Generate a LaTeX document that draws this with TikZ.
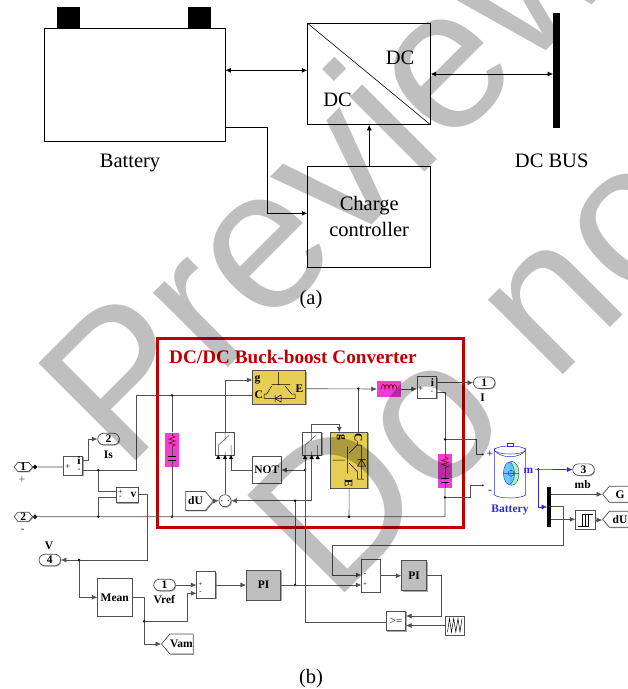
\documentclass[tikz,border=0pt]{standalone}
\usepackage{fontspec}
\setmainfont{Liberation Serif}
\newfontfamily\wmfont{Liberation Sans}
\usetikzlibrary{arrows.meta,shapes.misc,shapes.symbols,shapes.geometric,shadows}
\definecolor{wirecol}{HTML}{505050}
\definecolor{framered}{HTML}{C00000}
\definecolor{igbtyellow}{HTML}{E6CE55}
\definecolor{rcpink}{HTML}{F23CD6}
\definecolor{pigray}{HTML}{BEBEBE}
\definecolor{batblue}{HTML}{2A2AE0}
\tikzset{
  wire/.style={wirecol, line width=0.6pt},
  bluewire/.style={batblue, line width=0.6pt},
  block/.style={draw=wirecol, fill=white, line width=0.7pt, inner sep=0pt, font=\bfseries\fontsize{11.5}{12}\selectfont,
    drop shadow={shadow xshift=0.9pt, shadow yshift=-0.9pt, fill=gray, opacity=0.7}},
  igbt/.style={block, fill=igbtyellow},
  pigain/.style={block, fill=pigray},
  rcbox/.style={fill=rcpink, inner sep=0pt, minimum width=14.5pt, minimum height=34pt},
  oport/.style={block, rounded rectangle, minimum width=21.5pt, minimum height=11.5pt},
  tagbox/.style={block, signal, signal pointer angle=100, minimum height=16pt},
  inport/.style={tagbox, signal to=east and west, minimum width=18.5pt, minimum height=9pt},
  lab/.style={font=\bfseries\fontsize{11.5}{12}\selectfont},
  dot/.style={circle, fill=black, inner sep=0pt, minimum size=2.6pt},
  swbox/.pic={
    \draw[wirecol, line width=0.5pt] (-6.7,1.7) -- (-6.7,11.5) (0,-11.5) -- (0,-3) (-6.7,1.7) -- (4,-8) (6,1.7) -- (6,11.5) (0,8) -- (0,11.5);
    \foreach \px in {-6.7,0,6} \fill[black] (\px-2.2,15.5) -- (\px+2.2,15.5) -- (\px,11.5) -- cycle;
  },
  rcbranch/.pic={
    \draw[wirecol, line width=0.5pt] (0,-17) -- (0,-14) (0,-3) -- (0,7) (0,11) -- (0,17);
    \draw[framered!60!black, line width=0.6pt] (0,-14) -- (3,-12.5) -- (-3,-10.5) -- (3,-8.5) -- (-3,-6.5) -- (3,-4.5) -- (0,-3);
    \draw[black, line width=0.6pt] (-4,7) -- (4,7) (-4,11) -- (4,11);
  }
}
\begin{document}
\begin{tikzpicture}[x=1pt,y=-1pt,>={Latex[length=5.5pt,width=5pt]}]
\path[use as bounding box, clip] (0,0) rectangle (628,689);

% part (a)
\node[draw, line width=0.7pt, minimum width=181pt, minimum height=113pt, inner sep=0pt] (battery) at (134.5,84.5) {};
\fill (57,7) rectangle (80,28);
\fill (188,7) rectangle (211,28);
\node[font=\fontsize{20.5}{24}\selectfont] (batterylab) at (130,162.5) {Battery};
\node[draw, line width=0.7pt, minimum width=122.6pt, minimum height=101pt, inner sep=0pt] (conv) at (369,74) {};
\draw[line width=0.6pt] (conv.north west) -- (conv.south east);
\node[font=\fontsize{20.5}{24}\selectfont] (dcone) at (400,58) {DC};
\node[font=\fontsize{20.5}{24}\selectfont] (dctwo) at (337.5,99.5) {DC};
\node[fill=black, minimum width=6.7pt, minimum height=115pt, inner sep=0pt] (dcbus) at (556.6,70) {};
\node[font=\fontsize{20.5}{24}\selectfont] (buslab) at (551.7,161) {DC BUS};
\node[draw, line width=0.7pt, minimum width=123pt, minimum height=101pt, inner sep=0pt, align=center, font=\fontsize{20.5}{26}\selectfont] (charge) at (369.2,216.5) {\raisebox{-1.5pt}{Charge}\\\raisebox{-1.5pt}{controller}};
\node[font=\fontsize{20.5}{24}\selectfont] (alab) at (311,300) {(a)};
\node[font=\fontsize{20.5}{24}\selectfont] (blab) at (311,679) {(b)};
\draw[<->, line width=0.7pt] (battery.east |- 0,70.3) -- (conv.west |- 0,70.3);
\draw[<->, line width=0.7pt] (conv.east |- 0,74) -- (dcbus.west |- 0,74);
\draw[->, line width=0.7pt] (charge.north) -- (conv.south -| charge.north);
\draw[->, line width=0.7pt] (battery.east |- 0,127.7) -- (267.3,127.7) -- (267.3,213.3) -- (charge.west |- 0,213.3);

% part (b): frame
\draw[framered, line width=3pt] (157,338) rectangle (463,527);
\node[anchor=west, inner sep=0pt, text=framered, font=\bfseries\fontsize{19.2}{22}\selectfont] (title) at (169,357) {DC/DC Buck-boost Converter};

% blocks inside frame
\node[igbt, minimum width=53pt, minimum height=33.5pt] (igbttop) at (279.2,387.5) {};
\node[lab, anchor=west, inner sep=0pt] (gtop) at (254.5,380) {g};
\node[lab, anchor=west, inner sep=0pt] (ctop) at (254.5,394.5) {C};
\node[lab, anchor=east, inner sep=0pt] (etop) at (303.5,389) {E};
\draw[black, line width=0.5pt] (278.3,372) -- (278.3,384) (271.7,384.5) -- (290,384.5) (271.7,386) -- (266.7,394) -- (264,394) -- (264,398.3) -- (295,398.3) -- (295,394) -- (291.7,394) -- (285,386);
\draw[black, line width=0.5pt] (275,395) -- (275,402) (275,398.5) -- (281,395) -- (281,402) -- cycle;

\node[fill=rcpink, minimum width=24pt, minimum height=16.5pt, inner sep=0pt] (inductor) at (389,389) {};
\draw[framered!60!black, line width=0.6pt] (381,389) .. controls (382,383) and (385,383) .. (385,389) .. controls (385,383) and (389,383) .. (389,389) .. controls (389,383) and (393,383) .. (393,389) .. controls (393,383) and (396,383) .. (397,389);
\node[block, minimum width=19.5pt, minimum height=21.5pt] (isense) at (427,387.5) {};
\node[lab, inner sep=0pt] (itxt) at (432.5,382.5) {i};
\node[inner sep=0pt, font=\fontsize{9}{9}\selectfont] (iplus) at (421,389) {+};
\node[inner sep=0pt, font=\fontsize{8}{8}\selectfont] (iminus) at (432,392) {-};

\node[rcbox] (rcleft) at (172,449.5) {};
\pic at (172,449.5) {rcbranch};
\node[rcbox] (rcright) at (445,471) {};
\pic at (445,471) {rcbranch};
\node[block, minimum width=18.6pt, minimum height=23pt] (swone) at (225,443.5) {};
\pic at (225,443.5) {swbox};
\node[block, minimum width=19pt, minimum height=23pt] (swtwo) at (312.2,443.5) {};
\pic at (311.7,443.5) {swbox};
\node[block, minimum width=28.3pt, minimum height=26.6pt] (notgate) at (266.8,470) {NOT};
\node[igbt, minimum width=37pt, minimum height=56pt] (igbtbig) at (349.2,460.3) {};
\node[lab, rotate=-90, inner sep=0pt] (gbig) at (341,437) {g};
\node[lab, rotate=-90, inner sep=0pt] (cbig) at (358.3,437.5) {C};
\node[lab, rotate=-90, inner sep=0pt] (ebig) at (348.7,483.3) {E};
\draw[black, line width=0.5pt] (332.7,460) -- (345,460) (347.7,446.7) -- (347.7,473.3) (349,453.3) -- (357.3,445) -- (357.3,441) (349,463) -- (357.3,471.5) -- (357.3,479) -- (364,479) -- (361.5,479) -- (361.5,445) -- (357.3,445);
\draw[black, line width=0.5pt] (357.5,466) -- (365.5,466) -- (361.5,459.5) -- cycle (357.5,459.5) -- (365.5,459.5);
\node[tagbox, signal to=east, minimum width=27.6pt, minimum height=19pt] (dufrom) at (195.5,501) {dU};
\node[block, circle, minimum size=12pt] (sumone) at (225,500.7) {};
\fill[wirecol] (221.7,500.7) circle (0.8) (228.3,500.7) circle (0.8);

% left side blocks
\node[inport] (inone) at (23.3,467) {1};
\node[inport] (intwo) at (23.3,516.7) {2};
\node[dot, diamond, minimum size=5pt] (inonedot) at (35,467) {};
\node[dot, diamond, minimum size=5pt] (intwodot) at (35,516.7) {};
\node[inner sep=0pt, font=\fontsize{12}{12}\selectfont, text=wirecol] (plustxt) at (22,480) {+};
\node[inner sep=0pt, font=\fontsize{12}{12}\selectfont, text=wirecol] (minustxt) at (22.7,530.7) {-};
\node[block, minimum width=19.4pt, minimum height=19pt] (isensetwo) at (73,465.5) {};
\node[lab, inner sep=0pt] (itwotxt) at (79,461) {i};
\node[inner sep=0pt, font=\fontsize{9}{9}\selectfont] (itwoplus) at (68,467) {+};
\node[inner sep=0pt, font=\fontsize{8}{8}\selectfont] (itwominus) at (79,470) {-};
\node[oport] (outtwo) at (108.5,439) {2};
\node[lab] (istxt) at (108.3,454.3) {Is};
\node[block, minimum width=22.3pt, minimum height=15.4pt] (vsense) at (127.2,495) {};
\node[lab, inner sep=0pt] (vtxt) at (133.5,495) {v};
\node[inner sep=0pt, font=\fontsize{8}{8}\selectfont] (vplus) at (120.5,492) {+};
\node[inner sep=0pt, font=\fontsize{8}{8}\selectfont] (vminus) at (120.5,497.5) {-};
\node[oport] (outfour) at (49.8,560) {4};
\node[lab] (vlab) at (49,545.7) {V};
\node[block, minimum width=34.3pt, minimum height=37.3pt] (mean) at (114.8,597.3) {Mean};
\node[oport] (vrefport) at (164.5,585) {1};
\node[lab] (vreflab) at (164.3,599.3) {Vref};
\node[tagbox, signal to=west, minimum width=31.6pt, minimum height=20pt] (vamtag) at (181.5,644) {Vam};
\node[block, minimum width=19pt, minimum height=26.6pt] (sumtwo) at (206.2,585) {};
\node[inner sep=0pt, font=\fontsize{7}{7}\selectfont] (stwoplus) at (200.5,585) {+};
\node[inner sep=0pt, font=\fontsize{7}{7}\selectfont] (stwominus) at (200.5,592.5) {-};
\node[pigain, minimum width=34.4pt, minimum height=29.7pt] (pione) at (263.5,585) {PI};
\node[block, minimum width=18.6pt, minimum height=33.3pt] (sumthree) at (371,575.7) {};
\node[inner sep=0pt, font=\fontsize{7}{7}\selectfont] (sthreeminus) at (365,575) {-};
\node[inner sep=0pt, font=\fontsize{7}{7}\selectfont] (sthreeplus) at (365,585) {+};
\node[pigain, minimum width=25pt, minimum height=30pt] (pitwo) at (414.2,575.7) {PI};
\node[block, font=\fontsize{11}{12}\selectfont, minimum width=19.4pt, minimum height=19.4pt] (compare) at (396,621) {>=};
\node[block, minimum width=18.6pt, minimum height=19pt] (sawtooth) at (455,625.5) {};
\draw[black, line width=0.5pt] (447.5,632) -- (449.5,618.5) -- (451.5,632) -- (453.7,618.5) -- (455.8,632) -- (458,618.5) -- (460,632) -- (462,618.5);

% right side blocks
\node[oport] (outone) at (484.2,382.7) {1};
\node[lab] (ilab) at (482.7,397.7) {I};
\node[oport] (outthree) at (583.5,469.6) {3};
\node[lab] (mblab) at (582.7,485) {mb};
\node[fill=black, minimum width=3.7pt, minimum height=39.4pt, inner sep=0pt] (demux) at (549.2,507) {};
\node[tagbox, signal to=west, minimum width=28pt, minimum height=16pt] (gtag) at (620,494.3) {G};
\node[tagbox, signal to=west, minimum width=28pt, minimum height=16pt] (dutag) at (620,519.3) {dU};
\node[block, minimum width=19.4pt, minimum height=18.6pt] (relay) at (585.3,520) {};
\draw[black, line width=0.5pt] (577.5,526) -- (585,526) -- (585,514) -- (593,514) (582,526) -- (582,514) -- (588,514) -- (588,526) -- (585,526);

% battery block
\coordinate (batplus) at (482.7,454.3);
\coordinate (batminus) at (482.7,485.3);
\node[inner sep=0pt, text=batblue, font=\bfseries\fontsize{11.5}{12}\selectfont] (bplus) at (490,454) {+};
\node[inner sep=0pt, text=batblue, font=\bfseries\fontsize{11.5}{12}\selectfont] (bminus) at (490,491.7) {-};
\node[inner sep=0pt, text=batblue, font=\bfseries\fontsize{11.5}{12}\selectfont] (bm) at (528.5,470.7) {m};
\node[text=batblue, font=\bfseries\fontsize{11.5}{12}\selectfont, inner sep=0pt] (batname) at (510,509.5) {Battery};
\draw[batblue, line width=0.5pt] (494.3,448) -- (494.3,495) .. controls (500,499) and (520,499) .. (525.7,495) -- (525.7,448);
\draw[batblue, line width=0.5pt] (510,450) ellipse (15.7 and 4);
\draw[batblue, line width=0.5pt] (494.3,450) .. controls (500,459) and (520,459) .. (525.7,450);
\draw[batblue, fill=white, line width=0.4pt] (507.3,443.5) rectangle (512.7,446.5);
\draw[batblue, fill=green!35!white, line width=0.4pt] (511.5,473.3) ellipse (7.5 and 12);
\draw[batblue, fill=cyan!60!white, line width=0.4pt] (509,473.3) ellipse (5.5 and 11);
\draw[batblue, line width=0.4pt] (511,473.3) circle (3) (503,473.3) -- (519,473.3) (511,462) -- (511,485);

% wires inside frame
\coordinate (railtop) at (136.7,395.3);
\coordinate (railbus) at (445,516.7);
\draw[wire] (isensetwo.east |- 0,470) -| (railtop) -- (igbttop.west |- railtop);
\draw[wire] (rcleft.north) -- (172,395.3) node[dot] (juncc) {};
\draw[wire] (rcleft.south) -- (172,516.7) node[dot] (juncd) {};
\draw[wire] (inone) -- (inonedot) -- (isensetwo.west |- inonedot);
\draw[wire] (intwo) -- (railbus) -- (rcright.south);
\draw[wire,->] (swone.north) -- (225,380) -- (igbttop.west |- 225,380);
\draw[wire] (sumone.north) -- (225,459);
\draw[wire] (notgate.west) -| (231,459);
\draw[wire,<-] (notgate.east) -- (305,470) node[dot] (juncnot) {};
\coordinate (swtwobot) at (305,459);
\draw[wire] (swtwobot) -- (305,622.3) -- (compare.west |- 305,622.3);
\coordinate (swtwomid) at (311.7,459);
\draw[wire,->] (swtwomid) -- (311.7,500.7) -- (sumone.east);
\draw[wire,->] (dufrom.east) -- (sumone.west);
\draw[wire] (295,500.7) node[dot] (juncsum) {} -- (295,585) node[dot] (juncpi) {};
\coordinate (swtwotop) at (311.7,432);
\draw[wire,->] (swtwotop) -- (311.7,424) -- (339.3,424) -- (339.3,432.3);
\draw[wire,->] (igbttop.east |- 0,388.7) -- (inductor.west);
\draw[wire] (358.3,388.7) node[dot] (juncind) {} -- (358.3,432.3);
\draw[wire,->] (inductor.east) -- (isense.west |- inductor.east);
\draw[wire] (igbtbig.south) -- (349,516.7) node[dot] (juncbig) {};
\draw[wire] (isense.east |- 0,392) -- (445,392) -- (rcright.north);
\draw[wire] (445,439.3) node[dot] (juncbatp) {} -- (476,439.3) -- (476,454.3) -- (batplus);
\draw[wire] (445,497.3) node[dot] (juncbatn) {} -- (470.7,497.3) -- (470.7,485.3) -- (batminus);
\draw[wire,->] (isense.east |- 0,382.7) -- (outone.west);
\node[dot, minimum size=2pt] (batpdot) at (batplus) {};
\node[dot, minimum size=2pt] (batndot) at (batminus) {};

% wires left
\draw[wire,->] (isensetwo.east |- 0,460.7) -- (88.3,460.7) |- (outtwo.west);
\draw[wire] (98.3,470) node[dot] (juncv) {} -- (98.3,491.7) -- (vsense.west |- 0,491.7);
\draw[wire] (98.3,516.7) node[dot] (juncvb) {} -- (98.3,497.7) -- (vsense.west |- 0,497.7);
\draw[wire,->] (vsense.east |- 0,494.3) -- (147.3,494.3) |- (outfour.east);
\draw[wire,->] (79,560) node[dot] (juncmean) {} |- (mean.west);
\draw[wire,->] (mean.east) -| (144,644) -- (vamtag.west);
\draw[wire,->] (144,621.3) node[dot] (juncref) {} -| (187.7,593.3) -- (sumtwo.west |- 0,593.3);
\draw[wire,->] (vrefport.east) -- (sumtwo.west |- vrefport.east);
\draw[wire,->] (sumtwo.east) -- (pione.west);
\draw[wire,->] (pione.east) -- (sumthree.west |- pione.east);
\draw[wire,->] (sumthree.east |- pitwo.west) -- (pitwo.west);
\draw[wire,->] (pitwo.east) -- (441,575.7) -- (441,616) -- (compare.east |- 0,616);
\draw[wire,->] (sawtooth.west) -- (compare.east |- sawtooth.west);

% wires right
\draw[bluewire,->] (535,469.3) -- (outthree.west);
\draw[bluewire,->] (538.3,469.3) node[dot, fill=batblue] (juncm) {} |- (demux.west);
\coordinate (demuxa) at (551,494.3);
\coordinate (demuxb) at (551,506.7);
\coordinate (demuxc) at (551,519.3);
\draw[wire,->] (demuxa) -- (gtag.west |- demuxa);
\draw[wire,->] (demuxc) -- (relay.west |- demuxc);
\draw[wire,->] (relay.east) -- (dutag.west |- relay.east);
\draw[wire,->] (demuxb) -- (563.3,506.7) -- (563.3,545) -- (332.3,545) -- (332.3,575) -- (sumthree.west |- 0,575);

% watermark
\node[anchor=base west, rotate=45, inner sep=0pt, text=black, text opacity=0.25, font=\wmfont\fontsize{200}{200}\selectfont] (wmone) at (124.4,472.3) {Preview};
\node[anchor=base west, rotate=45, inner sep=0pt, text=black, text opacity=0.25, font=\wmfont\fontsize{200}{200}\selectfont] (wmtwo) at (333.7,604.3) {Do not};
\end{tikzpicture}
\end{document}
